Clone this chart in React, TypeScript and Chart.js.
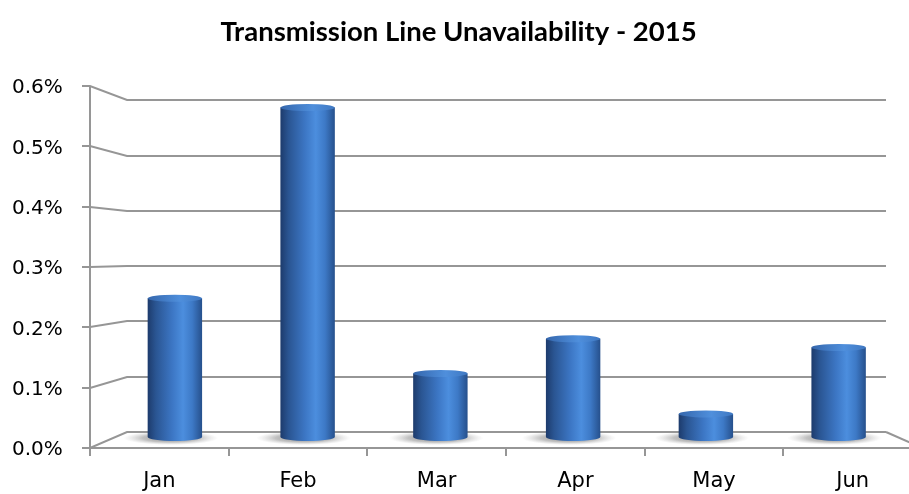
import React, { useEffect, useRef } from "react";
import { Chart, registerables } from "chart.js";

Chart.register(...registerables);

const months = ["Jan", "Feb", "Mar", "Apr", "May", "Jun"];
const unavailability = [0.24, 0.57, 0.11, 0.17, 0.04, 0.155];
const yTickValues = [0, 0.1, 0.2, 0.3, 0.4, 0.5, 0.6];
const titleText = "Transmission Line Unavailability - 2015";

const LINE = "#969696";

function bodyGradient(ctx: CanvasRenderingContext2D, cx: number, w: number) {
  const g = ctx.createLinearGradient(cx - w / 2, 0, cx + w / 2, 0);
  g.addColorStop(0, "#1d3b6c");
  g.addColorStop(0.15, "#2a5592");
  g.addColorStop(0.45, "#3c76c4");
  g.addColorStop(0.65, "#4c8ede");
  g.addColorStop(0.82, "#3d79c6");
  g.addColorStop(1, "#26508c");
  return g;
}

const framePlugin = {
  id: "frame3d",
  beforeDatasetsDraw(chart: any) {
    const ctx: CanvasRenderingContext2D = chart.ctx;
    const ca = chart.chartArea;
    const y2 = chart.scales.y2;
    const W = ca.right - ca.left;
    const fL = ca.left - 18.5;
    const bL = ca.left + 18.5;
    const bR = ca.right - 19;
    const step = W * 0.1741;
    const fR = fL + 6 * step;
    const f0 = y2.getPixelForValue(0);
    const back = (v: number) => f0 - 16 - (f0 - y2.getPixelForValue(v)) * 0.916;

    ctx.save();
    ctx.strokeStyle = LINE;
    ctx.lineWidth = 2;
    ctx.lineCap = "butt";
    const fTop = y2.getPixelForValue(yTickValues[yTickValues.length - 1]);
    ctx.beginPath();
    ctx.moveTo(fL, fTop);
    ctx.lineTo(fL, f0 + 8);
    ctx.stroke();
    yTickValues.forEach((v) => {
      const f = Math.round(y2.getPixelForValue(v));
      const b = Math.round(back(v));
      ctx.beginPath();
      ctx.moveTo(fL - 8, f);
      ctx.lineTo(fL, f);
      ctx.lineTo(bL, b);
      ctx.lineTo(bR, b);
      ctx.stroke();
    });
    const b0 = Math.round(back(0));
    const f0r = Math.round(f0);
    ctx.beginPath();
    ctx.moveTo(bR, b0);
    ctx.lineTo(fR, f0r);
    ctx.stroke();
    ctx.beginPath();
    ctx.moveTo(fL, f0r);
    ctx.lineTo(fR, f0r);
    ctx.stroke();
    for (let i = 1; i <= 6; i++) {
      const x = Math.round(fL + i * step);
      ctx.beginPath();
      ctx.moveTo(x, f0r);
      ctx.lineTo(x, f0r + 8);
      ctx.stroke();
    }
    const meta = chart.getDatasetMeta(0);
    meta.data.forEach((el: any) => {
      const rx = el.width / 2 + 20;
      const ry = 7;
      ctx.save();
      ctx.translate(el.x - 4, el.base + 1);
      ctx.scale(1, ry / rx);
      const g = ctx.createRadialGradient(0, 0, 0, 0, 0, rx);
      g.addColorStop(0, "rgba(50,50,50,0.6)");
      g.addColorStop(0.6, "rgba(80,80,80,0.35)");
      g.addColorStop(1, "rgba(140,140,140,0)");
      ctx.fillStyle = g;
      ctx.beginPath();
      ctx.arc(0, 0, rx, 0, Math.PI * 2);
      ctx.fill();
      ctx.restore();
    });
    ctx.restore();
  },
  afterDatasetsDraw(chart: any) {
    const ctx: CanvasRenderingContext2D = chart.ctx;
    const meta = chart.getDatasetMeta(0);
    ctx.save();
    meta.data.forEach((el: any) => {
      const w = el.width;
      ctx.fillStyle = bodyGradient(ctx, el.x, w);
      ctx.beginPath();
      ctx.ellipse(el.x, el.base, w / 2, 4, 0, 0, Math.PI);
      ctx.fill();
      const g = ctx.createLinearGradient(el.x - w / 2, 0, el.x + w / 2, 0);
      g.addColorStop(0, "#3567ad");
      g.addColorStop(0.6, "#4f8fdc");
      g.addColorStop(1, "#3f78c2");
      ctx.fillStyle = g;
      ctx.beginPath();
      ctx.ellipse(el.x, el.y, w / 2, 3.5, 0, 0, Math.PI * 2);
      ctx.fill();
    });
    ctx.restore();
  },
  afterDraw(chart: any) {
    const ctx: CanvasRenderingContext2D = chart.ctx;
    const ca = chart.chartArea;
    const y2 = chart.scales.y2;
    const W = ca.right - ca.left;
    const fL = ca.left - 18.5;
    const step = W * 0.1741;
    const f0 = y2.getPixelForValue(0);
    ctx.save();
    ctx.fillStyle = "#000";
    ctx.font = '21px "DejaVu Sans"';
    ctx.textAlign = "center";
    ctx.textBaseline = "middle";
    months.forEach((m, i) => {
      ctx.fillText(m, fL + (i + 0.5) * step, f0 + 34);
    });
    ctx.restore();
  },
};

export default function App() {
  const ref = useRef<HTMLCanvasElement>(null);
  useEffect(() => {
    if (!ref.current) return;
    const chart = new Chart(ref.current, {
      type: "bar",
      data: {
        labels: months,
        datasets: [
          {
            data: unavailability,
            xAxisID: "x",
            yAxisID: "y",
            barPercentage: 0.41,
            categoryPercentage: 1,
            borderWidth: 0,
            backgroundColor: (c: any) => {
              const ch = c.chart;
              if (!ch.chartArea || !ch.scales.x) return "#3a70b8";
              const xs = ch.scales.x;
              const cx = xs.getPixelForValue(c.dataIndex);
              const w = (xs.width / months.length) * 0.41;
              return bodyGradient(ch.ctx, cx, w);
            },
          },
        ],
      },
      options: {
        responsive: false,
        animation: false,
        layout: { padding: { left: 12, right: 4, top: 0, bottom: 46 } },
        plugins: {
          legend: { display: false },
          tooltip: { enabled: false },
          title: {
            display: true,
            text: titleText,
            color: "#000",
            font: { family: "Lato", size: 27.5, weight: "bold", lineHeight: 1.2 },
            padding: { top: 15.9, bottom: 37.1 },
          },
        },
        scales: {
          x: {
            type: "category",
            display: false,
            grid: { display: false },
          },
          y: {
            type: "linear",
            display: false,
            min: -0.019,
            max: 0.6073,
          },
          y2: {
            type: "linear",
            position: "left",
            min: 0,
            max: 0.6,
            afterBuildTicks: (s: any) => {
              s.ticks = yTickValues.map((v) => ({ value: v }));
            },
            afterFit: (s: any) => {
              s.width = 96.5;
            },
            grid: { display: false, drawTicks: false },
            border: { display: false },
            ticks: {
              padding: 0,
              crossAlign: "far",
              labelOffset: 2,
              color: "#000",
              font: { family: "DejaVu Sans", size: 20 },
              callback: (v: any) => Number(v).toFixed(1) + "%",
            },
          },
        },
      },
      plugins: [framePlugin],
    });
    return () => chart.destroy();
  }, []);
  return (
    <div style={{ position: "fixed", left: 0, top: 0, width: 909, height: 494, background: "#fff" }}>
      <canvas ref={ref} width={909} height={494} style={{ display: "block" }} />
    </div>
  );
}
